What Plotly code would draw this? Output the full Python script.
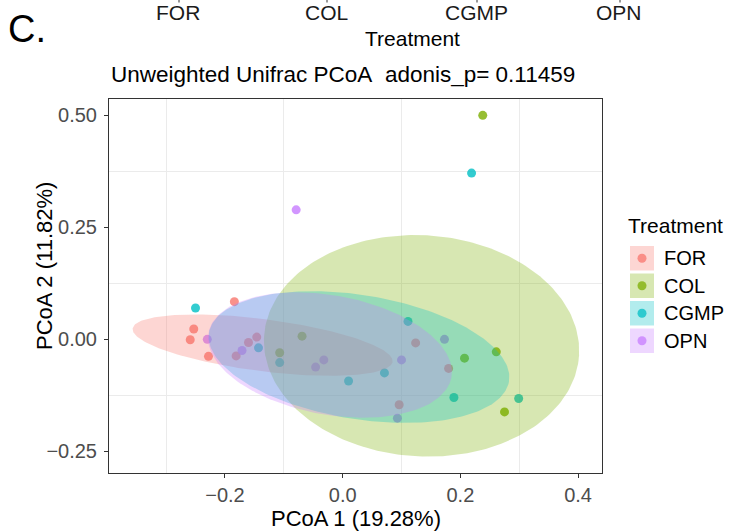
import numpy as np
import plotly.graph_objects as go

# ---------------- data ----------------
groups = ["FOR", "COL", "CGMP", "OPN"]
colors = {"FOR": "#F8766D", "COL": "#7CAE00", "CGMP": "#00BFC4", "OPN": "#C77CFF"}

for_x = [-0.184, -0.253, -0.259, -0.228, -0.181, -0.160, -0.146, 0.124, 0.180, 0.096]
for_y = [0.084, 0.023, -0.001, -0.038, -0.037, -0.007, 0.005, -0.008, -0.065, -0.146]
col_x = [0.238, -0.069, -0.107, 0.207, 0.261, 0.275]
col_y = [0.500, 0.007, -0.030, -0.042, -0.028, -0.162]
cgmp_x = [0.219, -0.250, -0.143, -0.107, 0.010, 0.071, 0.111, 0.189, 0.299]
cgmp_y = [0.371, 0.070, -0.019, -0.052, -0.093, -0.075, 0.040, -0.130, -0.132]
opn_x = [-0.079, -0.230, -0.171, -0.046, -0.032, 0.100, 0.173, 0.093]
opn_y = [0.289, 0.000, -0.025, -0.062, -0.046, -0.046, 0.000, -0.176]

points = {"FOR": (for_x, for_y), "COL": (col_x, col_y),
          "CGMP": (cgmp_x, cgmp_y), "OPN": (opn_x, opn_y)}

# ellipse parameters: centre, semi-axis vector u, semi-axis vector v (data units)
ell_center = {"FOR": (-0.136, -0.013), "COL": (0.134, -0.0145),
              "CGMP": (0.0277, -0.0395), "OPN": (-0.0216, -0.035)}
ell_u = {"FOR": (0.2208, -0.0371), "COL": (0.2676, -0.0210),
         "CGMP": (0.2549, -0.0542), "OPN": (0.2064, -0.0496)}
ell_v = {"FOR": (0.0056, 0.0576), "COL": (0.0112, 0.2464),
         "CGMP": (0.0168, 0.1366), "OPN": (0.0182, 0.1309)}

x_ticks = [-0.2, 0.0, 0.2, 0.4]
x_tick_labels = ["\u22120.2", "0.0", "0.2", "0.4"]
y_ticks = [-0.25, 0.0, 0.25, 0.50]
y_tick_labels = ["\u22120.25", "0.00", "0.25", "0.50"]
x_minor = [-0.3, -0.1, 0.1, 0.3]
y_minor = [-0.125, 0.125, 0.375]

title_text = "Unweighted Unifrac PCoA\u00a0\u00a0adonis_p= 0.11459"
x_title = "PCoA 1 (19.28%)"
y_title = "PCoA 2 (11.82%)"
legend_title = "Treatment"

FONT = "Liberation Sans, Arial, Helvetica, sans-serif"


def rgba(hexc, a):
    h = hexc.lstrip("#")
    return "rgba(%d,%d,%d,%.2f)" % (int(h[0:2], 16), int(h[2:4], 16), int(h[4:6], 16), a)


fig = go.Figure()

# points first (ellipses are painted over them, like the reference)
for g in groups:
    xs, ys = points[g]
    fig.add_trace(go.Scatter(x=xs, y=ys, mode="markers", name=g, showlegend=False,
                             marker=dict(size=9, color=colors[g], opacity=0.8,
                                         line=dict(width=0))))

t = np.linspace(0, 2 * np.pi, 240)
for g in groups:
    cx, cy = ell_center[g]
    ux, uy = ell_u[g]
    vx, vy = ell_v[g]
    ex = cx + ux * np.cos(t) + vx * np.sin(t)
    ey = cy + uy * np.cos(t) + vy * np.sin(t)
    fig.add_trace(go.Scatter(x=ex, y=ey, mode="lines", fill="toself",
                             fillcolor=rgba(colors[g], 0.3),
                             line=dict(width=0, color=rgba(colors[g], 0.0)),
                             showlegend=False, hoverinfo="skip"))

# ---------------- layout ----------------
W, H = 729, 531
L, R, T, B = 109, 602, 99, 473


def px(x):
    return (x - L) / (R - L)


def py(y):
    return (B - y) / (B - T)


axis_common = dict(showgrid=False, zeroline=False, ticks="outside", ticklen=4,
                   tickwidth=1, tickcolor="#333333", showline=True, linecolor="#333333",
                   linewidth=1, mirror=True,
                   tickfont=dict(family=FONT, size=20, color="#4D4D4D"))

fig.update_layout(
    width=W, height=H,
    margin=dict(l=L, r=W - R, t=T, b=H - B),
    paper_bgcolor="white", plot_bgcolor="white",
    showlegend=False,
    xaxis=dict(range=[-0.397, 0.4406], tickvals=x_ticks, ticktext=x_tick_labels,
               minor=dict(tickvals=x_minor, showgrid=True, gridcolor="#EBEBEB",
                          gridwidth=1, ticks=""),
               **axis_common),
    yaxis=dict(range=[-0.2984, 0.5364], tickvals=y_ticks, ticktext=y_tick_labels,
               ticklabelstandoff=3,
               minor=dict(tickvals=y_minor, showgrid=True, gridcolor="#EBEBEB",
                          gridwidth=1, ticks=""),
               **axis_common),
)

ann = []
shapes = []
# panel label and truncated legend from previous panel
ann.append(dict(text="C.", x=px(6), y=py(29), xref="paper", yref="paper",
                xanchor="left", yanchor="middle", showarrow=False,
                font=dict(family=FONT, size=38, color="black")))
top_labels = ["FOR", "COL", "CGMP", "OPN"]
top_x = [178, 326, 476, 619]
for lab, xx in zip(top_labels, top_x):
    ann.append(dict(text=lab, x=px(xx), y=py(13), xref="paper", yref="paper",
                    xanchor="center", yanchor="middle", showarrow=False,
                    font=dict(family=FONT, size=21, color="#1A1A1A")))
    shapes.append(dict(type="line", xref="paper", yref="paper",
                       x0=px(xx + 1), x1=px(xx + 1), y0=py(0), y1=py(2.5),
                       line=dict(color="#333333", width=1)))
ann.append(dict(text="Treatment", x=px(412), y=py(38), xref="paper", yref="paper",
                xanchor="center", yanchor="middle", showarrow=False,
                font=dict(family=FONT, size=21, color="black")))

# title
ann.append(dict(text=title_text, x=px(109), y=py(75), xref="paper", yref="paper",
                xanchor="left", yanchor="middle", showarrow=False,
                font=dict(family=FONT, size=22.5, color="black")))
# axis titles
ann.append(dict(text=x_title, x=px(356), y=py(518), xref="paper", yref="paper",
                xanchor="center", yanchor="middle", showarrow=False,
                font=dict(family=FONT, size=22, color="black")))
ann.append(dict(text=y_title, x=px(44), y=py(266), xref="paper", yref="paper",
                xanchor="center", yanchor="middle", showarrow=False, textangle=-90,
                font=dict(family=FONT, size=22, color="black")))

# custom legend
ann.append(dict(text=legend_title, x=px(626), y=py(225), xref="paper", yref="paper",
                xanchor="left", yanchor="middle", showarrow=False,
                font=dict(family=FONT, size=21, color="black")))
key_top = [246, 273.5, 301, 328.5]
for g, kt in zip(groups, key_top):
    shapes.append(dict(type="rect", xref="paper", yref="paper",
                       x0=px(630), x1=px(654), y0=py(kt), y1=py(kt + 24.5),
                       fillcolor=rgba(colors[g], 0.3), line=dict(width=0), layer="above"))
    cyy = kt + 12.25
    shapes.append(dict(type="circle", xref="paper", yref="paper",
                       x0=px(637.5), x1=px(646.5), y0=py(cyy - 4.5), y1=py(cyy + 4.5),
                       fillcolor=rgba(colors[g], 0.75), line=dict(width=0), layer="above"))
    ann.append(dict(text=g, x=px(662), y=py(cyy), xref="paper", yref="paper",
                    xanchor="left", yanchor="middle", showarrow=False,
                    font=dict(family=FONT, size=20, color="black")))

fig.update_layout(annotations=ann, shapes=shapes)
fig.write_html("out.html")
